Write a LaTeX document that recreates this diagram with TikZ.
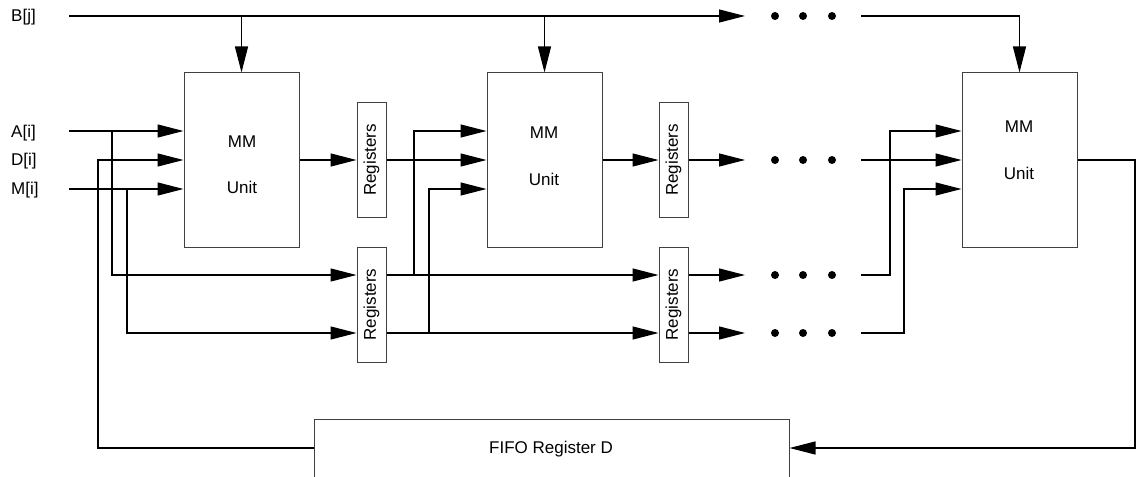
\documentclass[tikz,border=0pt]{standalone}
\usepackage{fontspec}
\setmainfont{Liberation Sans}
\usetikzlibrary{arrows.meta}
\begin{document}
\begin{tikzpicture}[x=1pt,y=-1pt,
  box/.style={draw=black!75, line width=1pt, inner sep=0pt},
  txt/.style={font=\fontsize{17}{20}\selectfont, inner sep=0pt},
  lbl/.style={txt, anchor=west},
  wire/.style={line width=1.2pt, black},
  arr/.style={wire, -{Triangle[length=26pt,width=13pt]}},
  dotc/.style={fill=black}
]
\useasboundingbox (0,0) rectangle (1139,476);
\clip (0,0) rectangle (1139,476);

% row coordinates
\coordinate (yB) at (0,16);
\coordinate (yA) at (0,131);
\coordinate (yD) at (0,160);
\coordinate (yM) at (0,189);
\coordinate (yL1) at (0,275);
\coordinate (yL2) at (0,333);
\coordinate (yF) at (0,448);

% MM units
\node[box, minimum width=115pt, minimum height=174pt] (mm1) at (241.5,160) {};
\node[txt] (mm1a) at (242,142) {MM};
\node[txt] (mm1b) at (242,187) {Unit};
\node[box, minimum width=115pt, minimum height=174pt] (mm2) at (544.5,160) {};
\node[txt] (mm2a) at (544,133) {MM};
\node[txt] (mm2b) at (544,179) {Unit};
\node[box, minimum width=115pt, minimum height=174pt] (mm3) at (1019.5,160) {};
\node[txt] (mm3a) at (1019,127) {MM};
\node[txt] (mm3b) at (1019,173) {Unit};

% Registers
\node[box, minimum width=29pt, minimum height=114pt] (r1) at (371.5,160) {};
\node[txt, rotate=90] (r1t) at (r1.center) {Registers};
\node[box, minimum width=29pt, minimum height=114pt] (r2) at (673.5,160) {};
\node[txt, rotate=90] (r2t) at (r2.center) {Registers};
\node[box, minimum width=29pt, minimum height=115pt] (r3) at (371.5,304.5) {};
\node[txt, rotate=90] (r3t) at (r3.center) {Registers};
\node[box, minimum width=29pt, minimum height=115pt] (r4) at (673.5,304.5) {};
\node[txt, rotate=90] (r4t) at (r4.center) {Registers};

% FIFO
\node[box, minimum width=475pt, minimum height=62pt] (fifo) at (551.5,450) {};
\node[txt] (fifot) at (551,449) {FIFO Register D};

% labels
\node[lbl] (lB) at (11,17) {B[j]};
\node[lbl] (lA) at (11,133) {A[i]};
\node[lbl] (lD) at (11,161) {D[i]};
\node[lbl] (lM) at (11,190) {M[i]};

% free ends / junctions
\coordinate (bs) at (69,16);
\coordinate (be) at (745,16);
\coordinate (bc) at (861,16);
\coordinate (as) at (69,131);
\coordinate (ms) at (69,189);
\coordinate (ja) at (112,131);
\coordinate (jm) at (127,189);
\coordinate (jd) at (98,448);
\coordinate (j1) at (414,275);
\coordinate (j2) at (429,333);
\coordinate (e0) at (745,160);
\coordinate (e1) at (745,275);
\coordinate (e2) at (745,333);
\coordinate (c0) at (861,160);
\coordinate (c1) at (861,275);
\coordinate (c2) at (861,333);
\coordinate (k1) at (890,275);
\coordinate (k2) at (904,333);
\coordinate (rr) at (1135,160);

% B[j] bus
\draw[arr] (bs) -- (be);
\draw[arr] (mm1.north |- yB) -- (mm1.north);
\draw[arr] (mm2.north |- yB) -- (mm2.north);
\draw[arr] (bc) -| (mm3.north);

% inputs to MM1
\draw[arr] (as) -- (mm1.west |- yA);
\draw[arr] (ms) -- (mm1.west |- yM);
\draw[arr] (ja) |- (r3.west |- yL1);
\draw[arr] (jm) |- (r3.west |- yL2);
\draw[arr] (fifo.west |- yF) -- (jd) |- (mm1.west |- yD);

% stage 1 -> 2
\draw[arr] (mm1.east |- yD) -- (r1.west |- yD);
\draw[arr] (r1.east |- yD) -- (mm2.west |- yD);
\draw[arr] (r3.east |- yL1) -- (r4.west |- yL1);
\draw[arr] (r3.east |- yL2) -- (r4.west |- yL2);
\draw[arr] (j1) |- (mm2.west |- yA);
\draw[arr] (j2) |- (mm2.west |- yM);

% stage 2 -> dots
\draw[arr] (mm2.east |- yD) -- (r2.west |- yD);
\draw[arr] (r2.east |- yD) -- (e0);
\draw[arr] (r4.east |- yL1) -- (e1);
\draw[arr] (r4.east |- yL2) -- (e2);

% dots
\foreach \y in {16,160,275,333}{
  \fill[dotc] (775,\y) circle (4pt);
  \fill[dotc] (803,\y) circle (4pt);
  \fill[dotc] (832,\y) circle (4pt);
}

% into MM3
\draw[arr] (c0) -- (mm3.west |- yD);
\draw[arr] (c1) -- (k1) |- (mm3.west |- yA);
\draw[arr] (c2) -- (k2) |- (mm3.west |- yM);

% feedback
\draw[arr] (mm3.east |- yD) -- (rr) |- (fifo.east |- yF);
\end{tikzpicture}
\end{document}
